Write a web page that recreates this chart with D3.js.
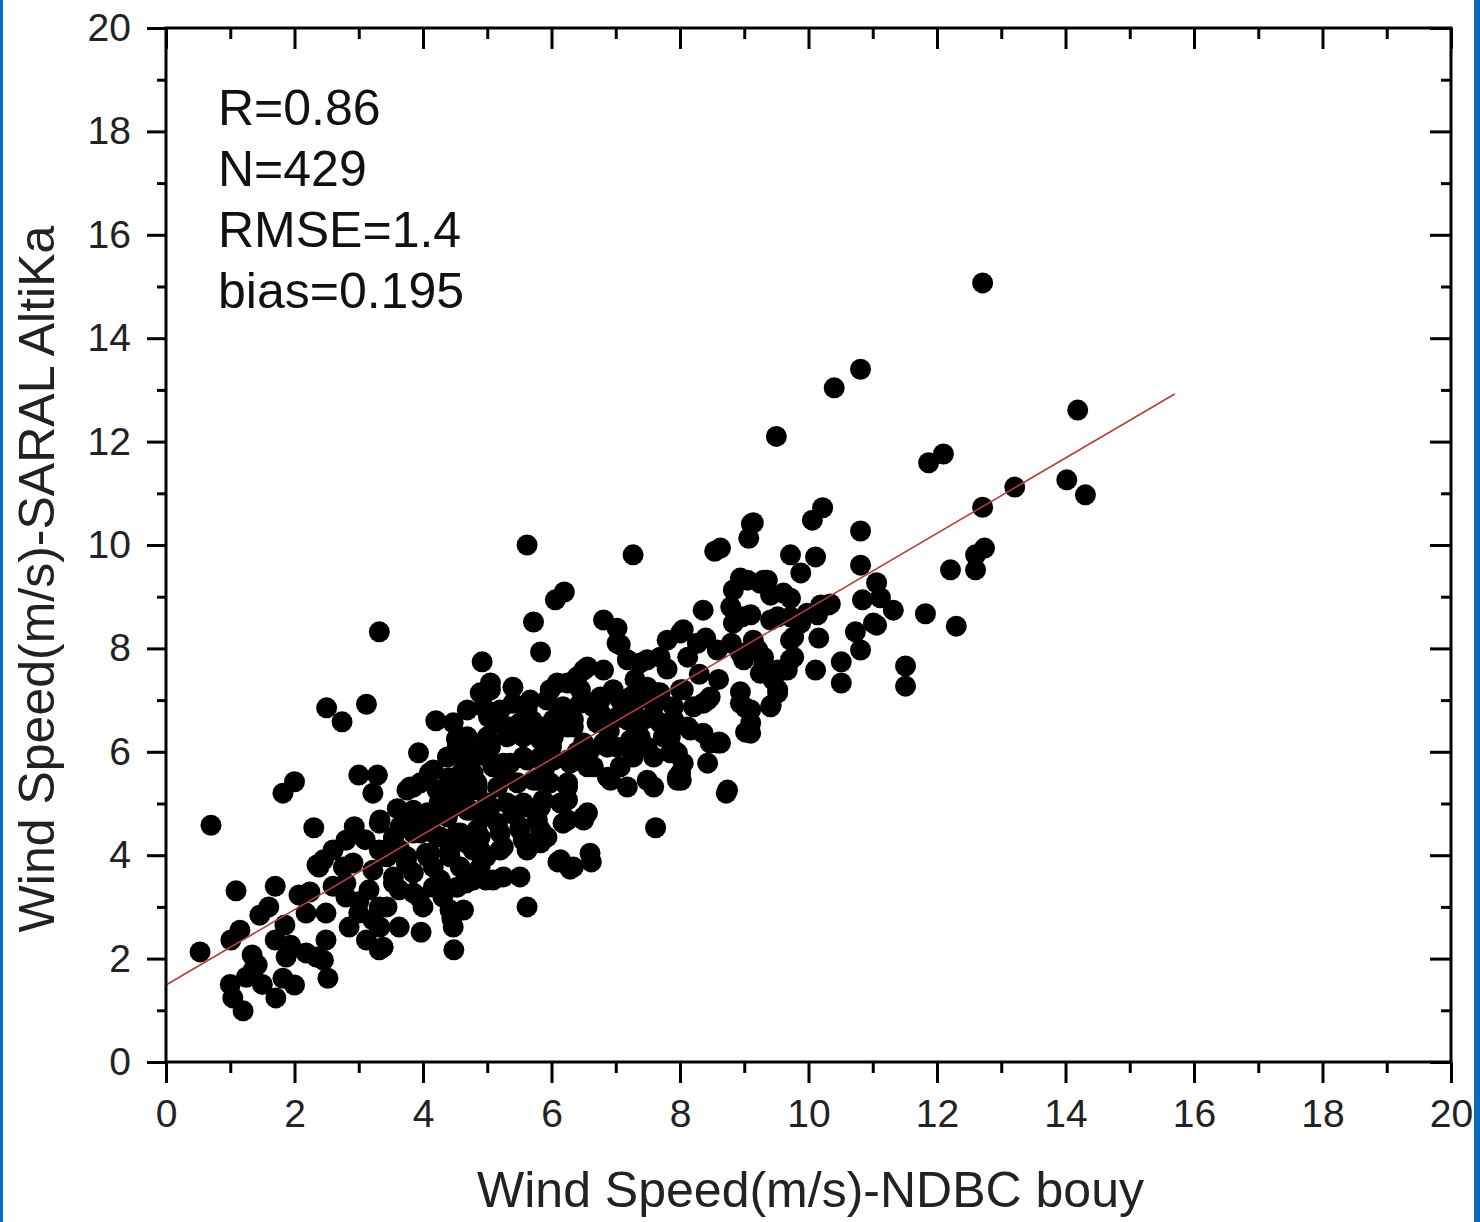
<!DOCTYPE html>
<html lang="en">
<head>
<meta charset="UTF-8">
<script src="https://d3js.org/d3.v7.min.js"></script>
<style>
  body { margin: 0; background: #fff; }
  svg { display: block; font-family: "Liberation Sans", Arial, sans-serif; }
  .axis text { font-size: 39px; fill: #222; }
  .axis line { stroke: #000; stroke-width: 3; }
  .axis path { display: none; }
  .title { font-size: 50px; fill: #222; }
  .stats { font-size: 50px; fill: #111; }
</style>
</head>
<body>
<svg class="chart"></svg>
<script>

// axis ticks
const majorTicks = [0, 2, 4, 6, 8, 10, 12, 14, 16, 18, 20];
const minorTicks = [1, 3, 5, 7, 9, 11, 13, 15, 17, 19];

// annotation
const statLines = ["R=0.86", "N=429", "RMSE=1.4", "bias=0.195"];

// linear fit (red line)
const fitIntercept = 1.49, fitSlope = 0.728, fitXEnd = 15.7;

// [buoy, altika] pairs
const outerPoints = [
  [0.53,2.13],[0.70,4.58],[1.09,3.31],[1.01,2.36],[1.15,2.55],[1.0,1.5],[1.04,1.24],[1.2,0.99],
  [1.34,2.07],[1.42,1.88],[1.5,1.5],[1.71,1.24],[1.82,1.62],[2.0,1.49],[1.46,2.84],[1.6,3.0],
  [1.7,3.4],[1.7,2.36],[1.85,2.65],[1.94,2.26],[1.82,5.2],[2.0,5.42],[2.07,3.23],[2.24,3.29],
  [2.3,4.53],[2.35,3.81],[2.5,6.85],[2.74,6.58],[2.52,1.62],[3.12,6.92],[3.32,8.32],[3.0,5.55],
  [3.29,5.55],[3.22,5.2],[3.97,2.51],[4.48,2.17],[4.45,2.77],[3.93,5.98],[4.2,6.6],[4.52,6.25],
  [4.92,7.74],[5.05,7.2],[5.62,10.0],[5.72,8.51],[5.83,7.93],[5.62,3.0],[6.06,8.94],[6.2,9.09],
  [6.62,3.87],[6.29,3.73],[6.1,3.87],[7.62,4.53],[7.27,9.81],[6.81,8.55],[7.02,8.39],[8.72,5.2],
  [8.54,9.88],[8.63,9.94],[9.07,10.13],[9.11,10.41],[9.5,12.1],[10.4,13.04],[10.81,13.4],[12.71,15.07],
  [14.19,12.61],[14.02,11.26],[14.31,10.97],[13.21,11.12],[11.87,11.59],[12.1,11.76],[12.71,10.73],[12.74,9.94],
  [12.6,9.81],[12.21,9.52],[12.6,9.52],[11.82,8.67],[12.3,8.43],[11.51,7.66],[11.51,7.27],[10.81,10.27],
  [10.81,9.61],[10.06,10.48],[10.22,10.72],[10.11,9.77],[9.72,9.81],[9.88,9.46],[11.06,9.27],[10.84,8.94],
  [11.12,8.98],[11.32,8.74],[11.06,8.45],[10.73,8.32],[10.81,7.97],[10.51,7.74],[10.51,7.33],[10.11,7.58],
  [10.16,8.2],[10.31,8.84],[9.02,6.38],[9.02,6.85],[8.94,7.16],[9.42,6.9],[8.61,6.19],[8.02,5.45]
];

const highPoints = [
  [9.14,10.43],[9.3,9.32],[9.41,9.03],[9.72,8.97],[10.34,8.86],[9.1,8.65],[9.41,8.55],[10.14,8.65],
  [9.88,8.49],[9.21,7.97],[9.72,8.16],[9.77,7.83],[9.3,7.64],[9.61,7.58],[9.52,7.2],[9.1,6.81],
  [9.1,6.36],[7.07,8.07],[8.36,8.74],[8.94,9.36],[8.83,9.13],[8.79,8.8],[8.97,8.61],[9.25,9.26],
  [9.52,8.61],[9.77,8.22],[10.19,8.84],[9.98,8.68],[11.01,8.49],[7.8,8.16],[8.01,8.3],[8.27,8.1],
  [8.12,7.83],[7.69,7.83],[7.49,7.78],[7.18,7.78],[6.81,7.58],[6.5,7.58],[6.25,7.33],[8.58,7.97],
  [8.99,7.78],[9.3,7.83],[9.25,7.52],[9.45,7.39],[9.67,7.58],[9.52,7.14],[9.41,6.87],[8.58,6.17],
  [8.36,6.36],[8.12,6.48],[7.96,5.98],[8.01,5.59],[8.43,7.0],[8.21,6.87],[8.05,7.2],[7.69,7.14],
  [7.49,7.25],[7.34,7.0],[7.07,7.0],[6.76,7.0],[6.45,6.94],[6.14,6.75],[6.34,6.48],[6.71,6.56],
  [7.18,6.62],[7.43,6.62],[7.69,6.56],[7.85,6.29],[7.49,6.09],[7.18,6.09],[6.87,6.09],[6.6,6.03],
  [6.25,5.84],[6.65,5.71],[7.07,5.71],[7.49,5.45],[7.18,5.32],[6.92,5.45],[6.25,5.32],[6.56,4.82],
  [6.25,4.68],[6.6,4.04],[7.02,8.1],[6.09,7.33],[6.56,7.64],[6.4,7.45],[7.38,7.72],[8.05,8.36],
  [9.05,9.32],[9.36,9.32],[8.83,8.49],[9.61,9.07],[9.72,8.61],[9.14,8.16],[8.94,7.91],[9.52,7.58],
  [9.72,7.78],[8.94,6.94],[9.1,6.56],[8.74,5.26],[8.36,6.94],[8.01,7.2],[8.47,7.06],[7.9,6.03],
  [7.96,5.51],[6.87,5.51],[6.56,5.71],[6.29,5.78],[7.02,6.67],[6.76,6.75],[7.27,6.56],[7.59,6.67],
  [7.9,6.62],[8.16,6.42],[8.47,6.17],[8.63,6.17],[8.05,5.78],[8.43,5.78],[7.69,7.06],[7.49,7.06],
  [7.23,7.06],[6.76,7.06],[6.5,7.0],[6.18,6.87],[6.5,6.17],[6.81,6.17],[7.02,6.09],[7.38,6.29],
  [7.74,6.29],[7.59,5.9],[7.27,5.9],[7.6,6.9],[8.3,7.5],[8.6,7.4],[8.8,8.1],[7.3,7.4],
  [7.8,7.6],[6.9,6.4],[6.4,6.0],[8.4,8.2]
];

const midPoints = [
  [4.53,6.09],[4.89,7.14],[5.36,6.48],[5.4,7.25],[5.62,6.81],[5.98,7.2],[6.03,6.62],[6.34,6.62],
  [6.45,7.2],[6.65,6.87],[6.96,7.2],[7.27,6.87],[7.65,7.14],[7.9,6.87],[7.23,6.23],[7.85,5.98],
  [7.96,5.45],[7.59,5.32],[6.5,4.68],[6.18,4.62],[6.25,5.07],[5.93,4.35],[6.14,3.91],[6.34,3.77],
  [3.33,4.68],[3.8,5.32],[4.16,5.65],[4.22,5.26],[4.63,5.9],[4.84,6.03],[5.05,6.09],[4.78,5.59],
  [5.09,5.71],[5.36,5.78],[5.62,5.84],[5.78,5.45],[5.47,5.4],[5.16,5.32],[4.84,5.26],[4.53,5.26],
  [3.85,4.87],[4.16,4.82],[4.47,4.93],[4.74,4.87],[5.05,4.93],[5.31,5.01],[5.62,4.93],[5.87,5.07],
  [5.16,4.62],[5.51,4.55],[5.78,4.68],[4.84,4.49],[4.53,4.43],[4.16,4.43],[3.85,4.43],[3.54,4.35],
  [3.44,3.97],[3.75,3.97],[4.11,4.04],[4.42,4.1],[4.89,4.1],[5.25,4.16],[5.56,4.29],[5.83,4.24],
  [4.58,3.77],[4.89,3.77],[5.25,3.58],[3.85,3.66],[4.16,3.77],[3.54,3.46],[3.85,3.27],[4.16,3.38],
  [4.53,3.38],[4.78,3.52],[4.0,3.0],[4.42,2.94],[3.44,3.0],[3.33,2.61],[3.38,2.22],[6.03,5.84],
  [5.83,6.23],[6.03,6.29],[6.25,6.48],[5.02,6.67],[5.67,7.0],[5.93,7.0],[5.4,6.94],[5.2,6.81],
  [4.94,6.87],[4.69,6.81],[4.47,6.56],[4.69,6.29],[5.0,6.29],[5.31,6.29],[5.56,6.29],[5.83,6.48],
  [5.51,6.56],[5.2,6.56],[4.38,5.9],[4.69,5.9],[5.0,5.9],[5.25,5.78],[5.56,5.9],[5.83,5.9],
  [3.96,5.4],[3.75,5.26],[4.53,5.4],[4.84,5.4],[5.72,5.45],[5.98,5.4],[6.25,5.4],[6.14,5.01],
  [5.83,4.93],[5.56,5.01],[5.0,5.01],[4.69,4.87],[4.38,4.74],[4.07,4.82],[3.8,4.74],[3.64,4.55],
  [3.96,4.43],[4.27,4.35],[4.58,4.43],[4.89,4.35],[5.2,4.43],[5.51,4.49],[5.83,4.49],[6.5,4.74],
  [3.64,4.1],[4.07,3.97],[4.42,3.97],[4.78,4.1],[5.2,4.1],[5.62,4.1],[4.27,3.52],[4.69,3.58],
  [5.09,3.52],[5.51,3.58],[5.05,7.33],[4.4,5.5],[4.6,5.6],[5.3,5.5],[5.9,5.7],[5.7,6.6],
  [6.0,6.1],[4.1,4.6],[5.4,4.8]
];

const lowPoints = [
  [4.94,7.1],[4.78,5.9],[3.85,5.32],[4.1,5.59],[4.31,5.26],[4.25,5.01],[3.85,4.74],[4.63,5.01],
  [4.94,4.74],[2.93,4.55],[3.32,4.62],[2.8,4.29],[2.6,4.1],[2.45,3.91],[2.38,3.77],[2.76,3.77],
  [3.32,4.1],[3.54,4.29],[4.05,4.04],[4.67,4.24],[4.98,3.97],[3.74,3.85],[3.54,3.58],[3.22,3.71],
  [2.91,3.85],[2.8,3.46],[2.8,3.19],[3.16,3.33],[3.32,3.0],[3.63,3.33],[3.94,3.19],[4.31,3.19],
  [4.67,3.46],[4.98,3.52],[4.63,2.94],[4.47,2.61],[3.22,2.75],[2.85,2.61],[3.12,2.36],[3.32,2.17],
  [3.63,2.61],[3.0,2.88],[2.49,2.88],[2.18,2.88],[1.36,1.78],[1.25,1.64],[2.34,2.03],[2.49,2.36],
  [2.45,1.97],[2.18,2.11],[1.87,2.03],[3.6,4.9],[3.1,4.3],[2.6,3.4],[3.0,3.1]
];

const points = outerPoints.concat(highPoints, midPoints, lowPoints);

const W = 1480, H = 1222;
const margin = {top: 28, right: 29, bottom: 160, left: 166},
    width = W - margin.left - margin.right,
    height = H - margin.top - margin.bottom;

let x = d3.scaleLinear().domain([0, 20]).range([0, width]);
let y = d3.scaleLinear().domain([0, 20]).range([height, 0]);

let root = d3.select(".chart")
    .attr("width", W)
    .attr("height", H);

root.append("rect").attr("width", W).attr("height", H).attr("fill", "#fff");
// blue frame strips at the sides
root.append("rect").attr("x", 0).attr("y", 0).attr("width", 3).attr("height", H).attr("fill", "#0b6cbd");
root.append("rect").attr("x", 1474).attr("y", 0).attr("width", 6).attr("height", H).attr("fill", "#0b6cbd");

let svg = root.append("g")
    .attr("transform", `translate(${margin.left},${margin.top})`);

// points
svg.append("g")
  .selectAll("circle")
  .data(points)
  .enter().append("circle")
    .attr("cx", d => x(d[0]))
    .attr("cy", d => y(d[1]))
    .attr("r", 10.5)
    .attr("fill", "#000");

// fit line
svg.append("line")
    .attr("x1", x(0)).attr("y1", y(fitIntercept))
    .attr("x2", x(fitXEnd)).attr("y2", y(fitIntercept + fitSlope * fitXEnd))
    .attr("stroke", "#b0413a")
    .attr("stroke-width", 1.6);

// axes: outward on left/bottom, inward on top/right
svg.append("g").attr("class", "axis")
    .attr("transform", `translate(0,${height})`)
    .call(d3.axisBottom(x).tickValues(majorTicks).tickSize(21).tickPadding(16).tickFormat(d3.format("d")));
svg.append("g").attr("class", "axis")
    .attr("transform", `translate(0,${height})`)
    .call(d3.axisBottom(x).tickValues(minorTicks).tickSize(11).tickFormat(""));

svg.append("g").attr("class", "axis")
    .call(d3.axisLeft(y).tickValues(majorTicks).tickSize(19).tickPadding(16).tickFormat(d3.format("d")));
svg.append("g").attr("class", "axis")
    .call(d3.axisLeft(y).tickValues(minorTicks).tickSize(9).tickFormat(""));

svg.append("g").attr("class", "axis")
    .call(d3.axisTop(x).tickValues(majorTicks).tickSize(-21).tickFormat(""));
svg.append("g").attr("class", "axis")
    .call(d3.axisTop(x).tickValues(minorTicks).tickSize(-11).tickFormat(""));

svg.append("g").attr("class", "axis")
    .attr("transform", `translate(${width},0)`)
    .call(d3.axisRight(y).tickValues(majorTicks).tickSize(-21).tickFormat(""));
svg.append("g").attr("class", "axis")
    .attr("transform", `translate(${width},0)`)
    .call(d3.axisRight(y).tickValues(minorTicks).tickSize(-10).tickFormat(""));

// frame
svg.append("rect")
    .attr("width", width).attr("height", height)
    .attr("fill", "none").attr("stroke", "#000").attr("stroke-width", 3);

// stats
svg.append("g")
  .selectAll("text")
  .data(statLines)
  .enter().append("text")
    .attr("class", "stats")
    .attr("x", 52)
    .attr("y", (d, i) => 97 + i * 61)
    .text(d => d);

// axis titles
svg.append("text")
    .attr("class", "title")
    .attr("text-anchor", "middle")
    .attr("transform", `translate(${width / 2 + 2},${height + 145})`)
    .text("Wind Speed(m/s)-NDBC bouy");
svg.append("text")
    .attr("class", "title")
    .attr("text-anchor", "middle")
    .attr("transform", `translate(-112,${height / 2 + 34}) rotate(-90)`)
    .text("Wind Speed(m/s)-SARAL AltiKa");

</script>
</body>
</html>
